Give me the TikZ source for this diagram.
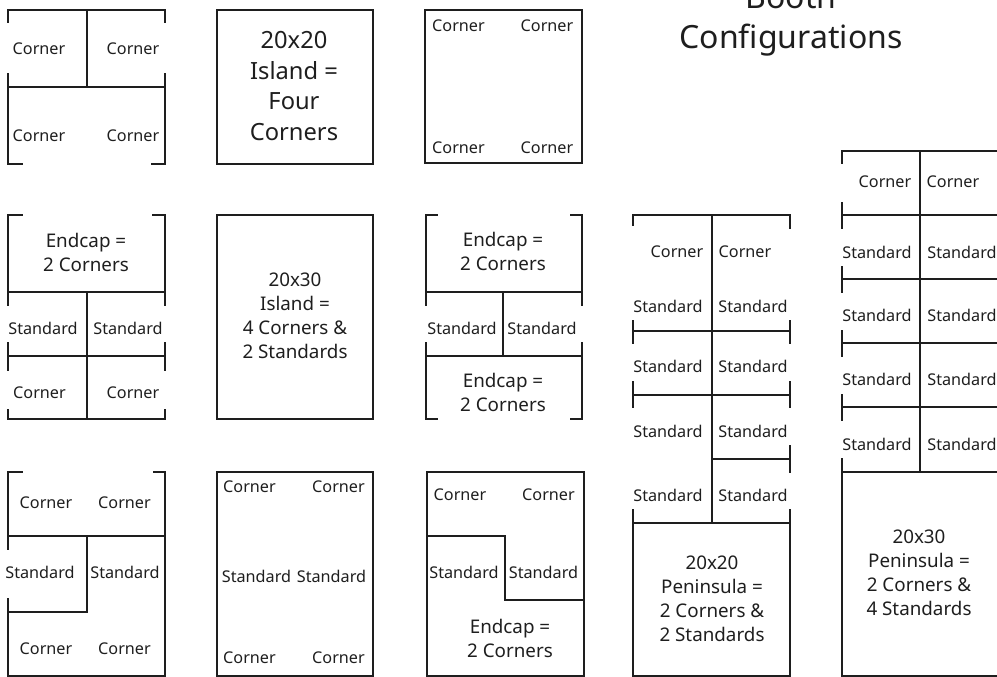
\documentclass[tikz,border=0pt]{standalone}
\usepackage{fontspec}
\setmainfont{Noto Sans}
\definecolor{ink}{HTML}{1E1E1E}
\tikzset{
  wall/.style={draw=ink, line width=1.7pt, line cap=rect},
  small/.style={text=ink, inner sep=0pt, font=\fontsize{16.2}{16}\selectfont},
  mid/.style={text=ink, inner sep=0pt, align=center, font=\fontsize{18.8}{24}\selectfont},
  large/.style={text=ink, inner sep=0pt, align=center, font=\fontsize{23.7}{30.7}\selectfont},
  heading/.style={text=ink, inner sep=0pt, align=center, font=\fontsize{32}{40}\selectfont}
}
\begin{document}
\begin{tikzpicture}[x=1pt,y=-1pt]
        \useasboundingbox (0,0) rectangle (997,677);

        \node[heading] (title) at (791,20) {Booth\\Configurations};

        % top row
        \draw[wall] (8,22) -- (8,10) -- (165,10) -- (165,22);
        \draw[wall] (8,74) -- (8,164) -- (22,164);
        \draw[wall] (165,74) -- (165,164) -- (152,164);
        \draw[wall] (8,87) -- (165,87) (87,10) -- (87,87);
        \node[small] (a1) at (39,49) {Corner};
        \node[small] (a2) at (133,49) {Corner};
        \node[small] (a3) at (39,136) {Corner};
        \node[small] (a4) at (133,136) {Corner};

        \draw[wall] (217,10) rectangle (373,164);
        \node[large] (b1) at (294,86) {20x20\\Island =\\Four\\Corners};

        \draw[wall] (425,10) rectangle (582,163);
        \node[small] (c1) at (458.5,26) {Corner};
        \node[small] (c2) at (547,26) {Corner};
        \node[small] (c3) at (458.5,148) {Corner};
        \node[small] (c4) at (547,148) {Corner};

        % middle row
        \draw[wall] (22,215) -- (8,215) -- (8,305) (8,343) -- (8,370) (8,410) -- (8,419) -- (165,419) -- (165,410);
        \draw[wall] (153,215) -- (165,215) -- (165,305) (165,343) -- (165,370);
        \draw[wall] (8,292) -- (165,292) (8,356) -- (165,356) (87,292) -- (87,419);
        \node[mid] (d1) at (86,252) {Endcap =\\2 Corners};
        \node[small] (d2) at (43,328) {Standard};
        \node[small] (d3) at (128,328) {Standard};
        \node[small] (d4) at (39.5,393) {Corner};
        \node[small] (d5) at (133,393) {Corner};

        \draw[wall] (217,215) rectangle (373,419);
        \node[mid] (e1) at (295,316) {20x30\\Island =\\4 Corners \&\\2 Standards};

        \draw[wall] (437,215) -- (426,215) -- (426,305) (426,343) -- (426,419) -- (437,419);
        \draw[wall] (571,215) -- (582,215) -- (582,305) (582,343) -- (582,419) -- (571,419);
        \draw[wall] (426,292) -- (582,292) (426,356) -- (582,356) (503,292) -- (503,356);
        \node[mid] (f1) at (503,251) {Endcap =\\2 Corners};
        \node[small] (f2) at (462,328) {Standard};
        \node[small] (f3) at (542,328) {Standard};
        \node[mid] (f4) at (503,392) {Endcap =\\2 Corners};

        % bottom row
        \draw[wall] (22,472) -- (8,472) -- (8,549) (8,599) -- (8,676) -- (165,676) -- (165,472) -- (154,472);
        \draw[wall] (8,536) -- (165,536) (87,536) -- (87,612) -- (8,612);
        \node[small] (g1) at (46,503) {Corner};
        \node[small] (g2) at (124.5,503) {Corner};
        \node[small] (g3) at (40,572) {Standard};
        \node[small] (g4) at (125,572) {Standard};
        \node[small] (g5) at (46,649) {Corner};
        \node[small] (g6) at (124.5,649) {Corner};

        \draw[wall] (217,472) rectangle (373,676);
        \node[small] (h1) at (249.5,487) {Corner};
        \node[small] (h2) at (338.5,487) {Corner};
        \node[small] (h3) at (256.5,576) {Standard};
        \node[small] (h4) at (331.5,576) {Standard};
        \node[small] (h5) at (249.5,658) {Corner};
        \node[small] (h6) at (338.5,658) {Corner};

        \draw[wall] (427,472) rectangle (584,676);
        \draw[wall] (427,536) -- (505,536) -- (505,600) -- (584,600);
        \node[small] (i1) at (460,495) {Corner};
        \node[small] (i2) at (548.5,495) {Corner};
        \node[small] (i3) at (464,572) {Standard};
        \node[small] (i4) at (543.5,572) {Standard};
        \node[mid] (i5) at (510,638) {Endcap =\\2 Corners};

        % peninsula, 20x20
        \draw[wall] (633,225) -- (633,215) -- (790,215) -- (790,228);
        \draw[wall] (633,321) -- (633,343) (633,382) -- (633,407) (633,510) -- (633,676) -- (790,676) -- (790,510);
        \draw[wall] (790,321) -- (790,343) (790,382) -- (790,407) (790,446) -- (790,472);
        \draw[wall] (633,331) -- (790,331) (633,395) -- (790,395) (712,459) -- (790,459) (633,523) -- (790,523);
        \draw[wall] (712,215) -- (712,523);
        \node[small] (j1) at (677,252) {Corner};
        \node[small] (j2) at (745,252) {Corner};
        \foreach \rowy [count=\n] in {306,366,431,495} {
          \node[small] (jl\n) at (668,\rowy) {Standard};
          \node[small] (jr\n) at (753,\rowy) {Standard};
        }
        \node[mid] (j3) at (712,599) {20x20\\Peninsula =\\2 Corners \&\\2 Standards};

        % peninsula, 20x30
        \draw[wall] (842,163) -- (842,151) -- (997.5,151) -- (997.5,163);
        \foreach \gapy in {215,279,343,407} {
          \draw[wall] (842,\gapy-12) -- (842,\gapy+13) (997.5,\gapy-12) -- (997.5,\gapy+13) (842,\gapy) -- (997.5,\gapy);
        }
        \draw[wall] (842,459) -- (842,676) -- (997.5,676) -- (997.5,459) (842,472) -- (997.5,472);
        \draw[wall] (920,151) -- (920,472);
        \node[small] (k1) at (885,182) {Corner};
        \node[small] (k2) at (953,182) {Corner};
        \foreach \rowy [count=\n] in {252,315,379,444} {
          \node[small] (kl\n) at (877,\rowy) {Standard};
          \node[small] (kr\n) at (962,\rowy) {Standard};
        }
        \node[mid] (k3) at (919,573) {20x30\\Peninsula =\\2 Corners \&\\4 Standards};
      \end{tikzpicture}
\end{document}
